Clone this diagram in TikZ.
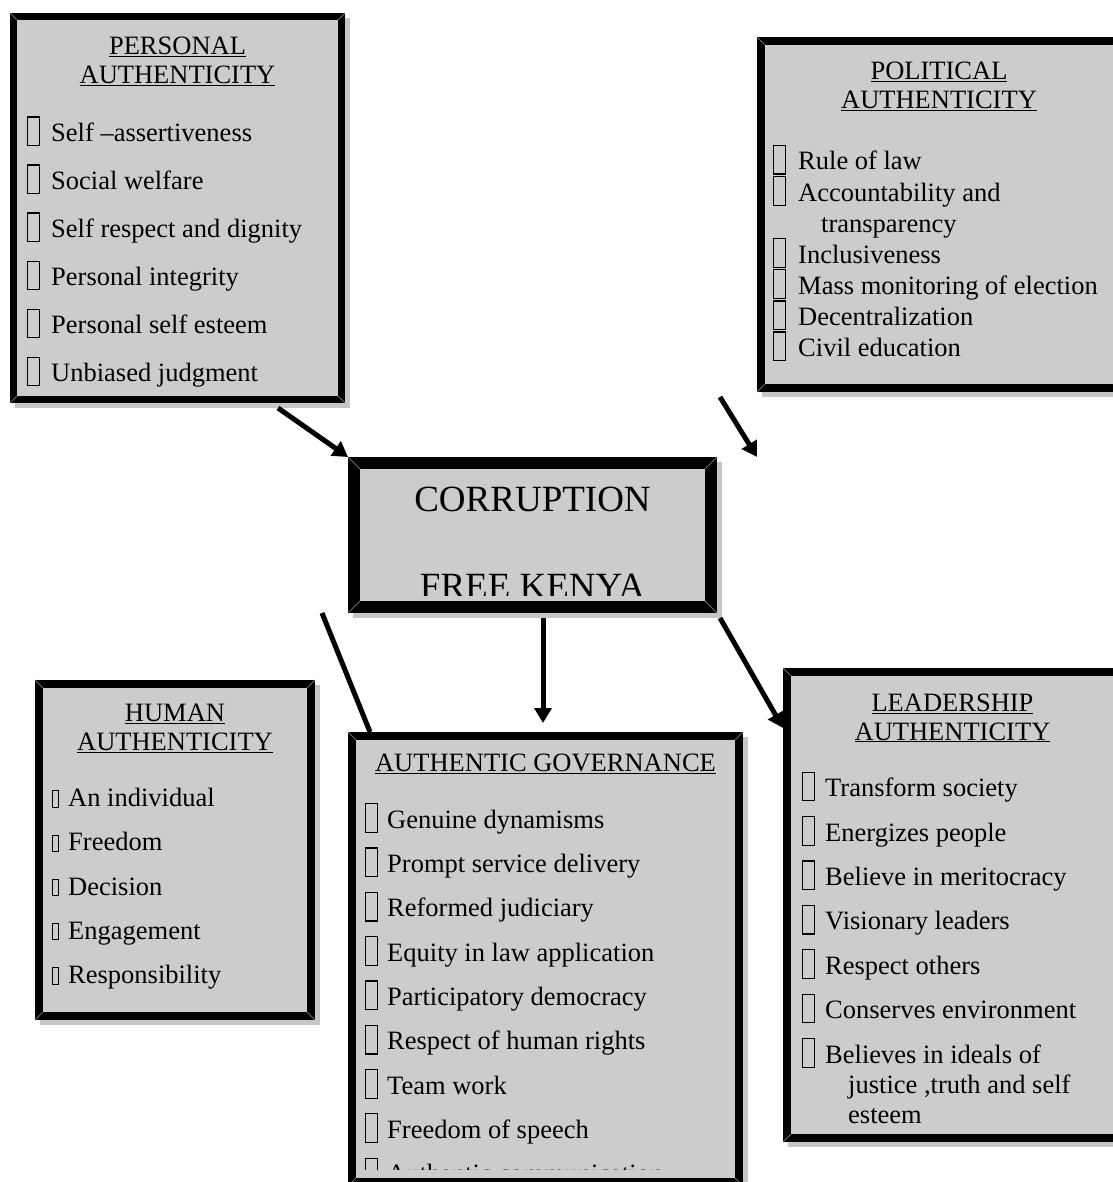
\documentclass[tikz,border=0pt]{standalone}
\usepackage{fontspec}
\setmainfont{Liberation Serif}
\usetikzlibrary{arrows.meta,backgrounds}

\definecolor{boxgray}{HTML}{CCCCCC}
\definecolor{shadowgray}{HTML}{C6C6C6}
\definecolor{bevelgray}{HTML}{6A6A6A}

% empty glyph boxes in front of the list entries
\newcommand{\tofu}{\raisebox{-3.5pt}{\setlength{\fboxsep}{0pt}\setlength{\fboxrule}{1.2pt}\fbox{\rule{0pt}{27.5pt}\hspace{10.6pt}}}}
\newcommand{\smalltofu}{\setlength{\fboxsep}{0pt}\setlength{\fboxrule}{0.9pt}\fbox{\rule{0pt}{15.5pt}\hspace{5.2pt}}}

\tikzset{
  framebox/.style={draw=black, fill=boxgray, line width=#1, inner sep=0pt},
  headline/.style={anchor=base, inner sep=0pt, font=\fontsize{26.5}{30.5}\selectfont},
  entry/.style={anchor=base west, inner sep=0pt, font=\fontsize{26.5}{30.5}\selectfont},
  arrow/.style={line width=5pt, -{Triangle[length=15pt,width=17pt]}},
  bevel/.style={draw=bevelgray, line width=1pt},
}

\begin{document}
\begin{tikzpicture}[x=1pt,y=-1pt]
  \useasboundingbox (0,0) rectangle (1112,1182);

  % boxes
  \node[framebox=7pt, minimum width=328pt, minimum height=383pt] (personal) at (177.5,208) {};
  \node[framebox=8pt, minimum width=356pt, minimum height=347pt] (political) at (939,214.5) {};
  \node[framebox=12pt, minimum width=357pt, minimum height=144pt] (corruption) at (532.5,535) {};
  \node[framebox=8pt, minimum width=272pt, minimum height=332pt] (human) at (175,850) {};
  \node[framebox=8pt, minimum width=387pt, minimum height=446pt] (governance) at (545.5,959) {};
  \node[framebox=8pt, minimum width=331pt, minimum height=466pt] (leadership) at (952.5,905) {};

  % shadows
  \begin{scope}[on background layer]
    \foreach \b in {personal,political,corruption,human,governance,leadership}
      \fill[shadowgray] ([shift={(5,5)}]\b.north west) rectangle ([shift={(5,5)}]\b.south east);
  \end{scope}

  % bevel corners
  \foreach \b/\w in {personal/7,political/8,corruption/12,human/8,governance/8,leadership/8} {
    \draw[bevel] (\b.north west) -- ++(\w,\w);
    \draw[bevel] (\b.north east) -- ++(-\w,\w);
    \draw[bevel] (\b.south west) -- ++(\w,-\w);
    \draw[bevel] (\b.south east) -- ++(-\w,-\w);
  }

  % personal authenticity
  \node[headline] (personalhead) at (177.5,54.3) {\underline{PERSONAL}};
  \node[headline] (personalsub) at (177.5,83.5) {\underline{AUTHENTICITY}};
  \foreach \t [count=\i from 0] in {Self –assertiveness, Social welfare, Self respect and dignity,
      Personal integrity, Personal self esteem, Unbiased judgment}
    \node[entry] (personal\i) at (27,141.7+48*\i) {\tofu\hspace{11pt}\t};

  % political authenticity
  \node[headline] (politicalhead) at (939,80) {\underline{POLITICAL}};
  \node[headline] (politicalsub) at (939,108.5) {\underline{AUTHENTICITY}};
  \node[entry] (political0) at (773,170) {\tofu\hspace{12pt}Rule of law};
  \node[entry] (political1) at (773,201.1) {\tofu\hspace{12pt}Accountability and};
  \node[entry] (political1b) at (821,232.2) {transparency};
  \node[entry] (political2) at (773,263.3) {\tofu\hspace{12pt}Inclusiveness};
  \node[entry] (political3) at (773,294.4) {\tofu\hspace{12pt}Mass monitoring of election};
  \node[entry] (political4) at (773,325.5) {\tofu\hspace{12pt}Decentralization};
  \node[entry] (political5) at (773,356.6) {\tofu\hspace{12pt}Civil education};

  % centre
  \node[headline, font=\fontsize{37}{43}\selectfont] (corrupthead) at (532.5,511.7) {CORRUPTION};
  \begin{scope}
    \clip (corruption.north west) rectangle (717,595);
    \node[headline, font=\fontsize{37}{43}\selectfont] (corruptsub) at (532.5,598) {FREE KENYA};
  \end{scope}

  % human authenticity
  \node[headline] (humanhead) at (175,721.7) {\underline{HUMAN}};
  \node[headline] (humansub) at (175,750.7) {\underline{AUTHENTICITY}};
  \foreach \t [count=\i from 0] in {An individual, Freedom, Decision, Engagement, Responsibility}
    \node[entry] (human\i) at (52,806.7+44.2*\i) {\smalltofu\hspace{9pt}\t};

  % authentic governance
  \node[headline] (governancehead) at (545.5,771.7) {\underline{AUTHENTIC GOVERNANCE}};
  \foreach \t [count=\i from 0] in {Genuine dynamisms, Prompt service delivery, Reformed judiciary,
      Equity in law application, Participatory democracy, Respect of human rights,
      Team work, Freedom of speech}
    \node[entry] (governance\i) at (365,828.3+44.3*\i) {\tofu\hspace{9pt}\t};
  \begin{scope}
    \clip (governance.north west) rectangle (743,1169);
    \node[entry] (governance8) at (365,1182.7) {\tofu\hspace{9pt}Authentic communication};
  \end{scope}

  % leadership authenticity
  \node[headline] (leadershiphead) at (952.5,711.7) {\underline{LEADERSHIP}};
  \node[headline] (leadershipsub) at (952.5,740) {\underline{AUTHENTICITY}};
  \foreach \t [count=\i from 0] in {Transform society, Energizes people, Believe in meritocracy,
      Visionary leaders, Respect others, Conserves environment, Believes in ideals of}
    \node[entry] (leadership\i) at (801.7,796.7+44.4*\i) {\tofu\hspace{10.3pt}\t};
  \node[entry] (leadership6b) at (848,1093.3) {justice ,truth and self};
  \node[entry] (leadership6c) at (848,1123.3) {esteem};

  % connectors
  \draw[arrow] ([shift={(-67,5)}]personal.south east) -- (corruption.north west);
  \draw[arrow] ([shift={(-37,5)}]political.south west) -- (political.south west |- corruption.north);
  \coordinate (govtip) at (543,723);
  \draw[arrow] ([yshift=-5pt]corruption.south -| govtip) -- (govtip);
  \draw[arrow] ([shift={(3,5)}]corruption.south east) -- ([yshift=-60pt]leadership.north west);
  \draw[line width=5pt] ([xshift=-26pt]corruption.south west) -- ([xshift=22pt]governance.north west);
\end{tikzpicture}
\end{document}
